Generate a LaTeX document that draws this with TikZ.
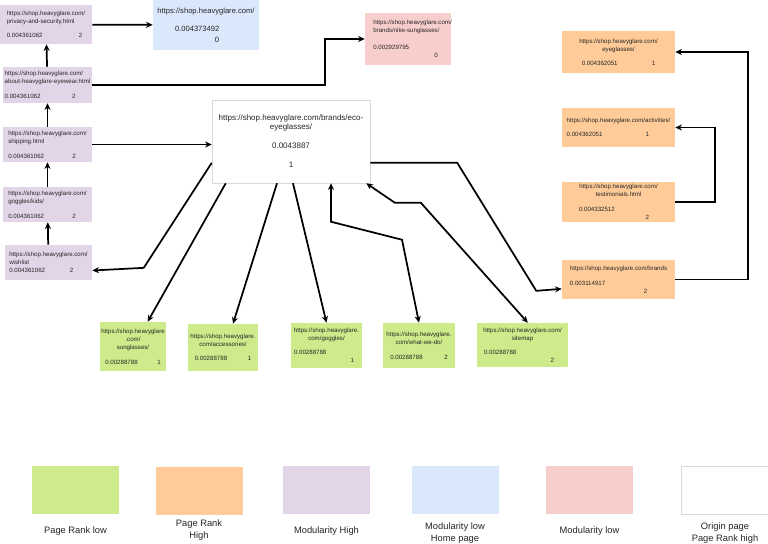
\documentclass[tikz,border=0pt]{standalone}
\usepackage{fontspec}
\setmainfont{Liberation Sans}
\usetikzlibrary{positioning,arrows.meta}

\definecolor{prlow}{HTML}{CDEB8B}
\definecolor{prhigh}{HTML}{FFCC99}
\definecolor{modhi}{HTML}{E1D5E7}
\definecolor{homeblue}{HTML}{DAE8FC}
\definecolor{modlo}{HTML}{F8CECC}

\begin{document}
\begin{tikzpicture}[
  x=0.75pt, y=-0.75pt,
  every node/.style={text=black!85},
  card/.style={
    rectangle, inner sep=0pt,
    align=left, font=\fontsize{4.6}{6}\selectfont
  },
  modhigh/.style={
    card, fill=modhi,
    minimum width=66.75pt, minimum height=26.25pt
  },
  modlow/.style={card, fill=modlo},
  homepage/.style={
    card, fill=homeblue,
    align=center, font=\fontsize{5.7}{7}\selectfont
  },
  originpage/.style={
    card, draw=black!15, fill=white,
    align=center, font=\fontsize{6}{6.75}\selectfont
  },
  rankhigh/.style={card, fill=prhigh, minimum width=84.75pt},
  ranklow/.style={card, fill=prlow, align=center},
  swatch/.style={rectangle, minimum width=65.25pt, minimum height=36pt},
  legendtext/.style={inner sep=0pt, align=center, font=\fontsize{7}{9}\selectfont},
  arrow/.style={-{Stealth[length=5pt,width=4.5pt]}, line width=1.3pt},
  twoway/.style={{Stealth[length=5pt,width=4.5pt]}-{Stealth[length=5pt,width=4.5pt]}, line width=1.3pt}
]

\fill[white] (0,0) rectangle (768,543);
\useasboundingbox (0,0) rectangle (768,543);

% =====================================================
% MODULARITY HIGH (left column)
% =====================================================

\node[modhigh, minimum width=69pt, minimum height=29.25pt] (privacy) at (46,24.5)
{https://shop.heavyglare.com/\\
privacy-and-security.html\\[4.5pt]
\makebox[54pt][l]{0.004361062}2};

\node[modhigh, minimum height=27pt] (about) at (47.5,85)
{https://shop.heavyglare.com/\\
about-heavyglare-eyewear.html\\[5.25pt]
\makebox[50.5pt][l]{0.004361062}2};

\node[modhigh] (shipping) at (47.5,144.5)
{https://shop.heavyglare.com/\\
shipping.html\\[5.25pt]
\makebox[48pt][l]{0.004361062}2};

\node[modhigh] (kids) at (47.5,204.5)
{https://shop.heavyglare.com/\\
goggles/kids/\\[5.25pt]
\makebox[48pt][l]{0.004361062}2};

\node[modhigh, minimum width=65.25pt] (wishlist) at (48.5,262.5)
{https://shop.heavyglare.com/\\
wishlist\\
\makebox[45.5pt][l]{0.004361062}2};

\draw[arrow] (wishlist) -- (kids);
\draw[arrow] (kids) -- (shipping);
\draw[arrow] (shipping) -- (about);
\draw[arrow] (about) -- (privacy);

% =====================================================
% HOME PAGE AND MODULARITY LOW
% =====================================================

\node[homepage, minimum width=79.5pt, minimum height=37.5pt] (home) at (206,25)
{https://shop.heavyglare.com/\\[6.5pt]
\makebox[46.5pt][l]{0.004373492}\\[1.25pt]
\makebox[19.5pt][r]{0}};

\node[modlow, minimum width=64.5pt, minimum height=39pt, text width=52pt] (nike) at (408,39)
{\mbox{https://shop.heavyglare.com/}\\
\mbox{brands/nike-sunglasses/}\\[6.75pt]
0.002929795\\
\hspace*{45.75pt}0};

\draw[arrow] (privacy) -- (home);
\draw[arrow] (about.east) -- ++(233,0) |- (nike.west);

% =====================================================
% ORIGIN PAGE
% =====================================================

\node[originpage, minimum width=118.5pt, minimum height=62.25pt] (origin) at (291,141.5)
{https://shop.heavyglare.com/brands/eco-\\
eyeglasses/\\[7.5pt]
0.0043887\\[7.5pt]
1};

\draw[arrow] (shipping.east) -- (shipping.east -| origin.west);

% =====================================================
% PAGE RANK HIGH (right column)
% =====================================================

\node[rankhigh, align=center, minimum height=31.5pt] (eyeglasses) at (618.5,52)
{https://shop.heavyglare.com/\\
eyeglasses/\\[4.5pt]
\makebox[52.5pt][l]{0.004362051}1};

\node[rankhigh, minimum height=29.25pt] (activities) at (618.5,127.5)
{https://shop.heavyglare.com/activities/\\[4.5pt]
\makebox[59.25pt][l]{0.004362051}1};

\node[rankhigh, align=center, minimum height=30pt] (testimonials) at (618.5,202)
{https://shop.heavyglare.com/\\
testimonials.html\\[5.25pt]
\makebox[59.25pt][l]{0.004332512}\\
\makebox[45.75pt][r]{2}};

\node[rankhigh, minimum height=29.25pt] (brands) at (618.5,279.5)
{https://shop.heavyglare.com/brands\\[5.25pt]
0.003114917\\
\hspace*{55.5pt}2};

\draw[arrow] ([yshift=-16pt]origin.east) -- ++(87,0) -- ++(79,128) -- ([yshift=-7pt]brands.west);
\draw[arrow] (testimonials.east) -- ++(40,0) |- (activities.east);
\draw[arrow] (brands.east) -- ++(73,0) |- (eyeglasses.east);

% =====================================================
% PAGE RANK LOW (bottom row)
% =====================================================

\node[ranklow, minimum width=49.5pt, minimum height=36.75pt] (sunglasses) at (133,346.5)
{https://shop.heavyglare\\
.com/\\
sunglasses/\\[5.25pt]
\makebox[39pt][l]{0.00288788}1};

\node[ranklow, minimum width=52.5pt, minimum height=35.25pt] (accessories) at (223,347.5)
{https://shop.heavyglare.\\
com/accessories/\\[4.5pt]
\makebox[39.75pt][l]{0.00288788}1};

\node[ranklow, minimum width=53.25pt, minimum height=33.75pt] (goggles) at (326.5,345.5)
{https://shop.heavyglare.\\
com/goggles/\\[4.5pt]
\makebox[48.75pt][l]{0.00288788}\\
\makebox[41.25pt][r]{1}};

\node[ranklow, minimum width=54pt, minimum height=33.75pt] (whatwedo) at (419,345.5)
{https://shop.heavyglare.\\
com/what-we-do/\\[5.25pt]
\makebox[40.5pt][l]{0.00288788}2};

\node[ranklow, minimum width=68.25pt, minimum height=33pt] (sitemap) at (522.5,345)
{https://shop.heavyglare.com/\\
sitemap\\[4.5pt]
\makebox[57.75pt][l]{0.00288788}\\
\makebox[47.25pt][r]{2}};

\draw[arrow] ([yshift=-16pt]origin.west) -- ++(-68,105) -- ([yshift=-6pt]wishlist.east);
\draw[arrow] ([xshift=10.5pt]origin.south west) -- ([xshift=11pt]sunglasses.north);
\draw[arrow] ([xshift=-10.5pt]origin.south) -- ([xshift=7.5pt]accessories.north);
\draw[arrow] ([xshift=1.5pt]origin.south) -- (goggles.north);
\draw[twoway] (whatwedo.north) -- ++(-17,-83) -- ++(-71,-18) -- ([xshift=30pt]origin.south);
\draw[twoway] ([xshift=4pt]sitemap.north) -- ++(-107,-120) -- ++(-26,0) -- ([xshift=-3pt]origin.south east);

% =====================================================
% LEGEND
% =====================================================

\node[swatch, fill=prlow] (key-low) at (75.5,490) {};
\node[swatch, fill=prhigh] (key-high) at (199,491) {};
\node[swatch, fill=modhi] (key-modhigh) at (326.5,490) {};
\node[swatch, fill=homeblue] (key-home) at (455,490) {};
\node[swatch, fill=modlo] (key-modlow) at (589.5,490) {};
\node[swatch, draw=black!15, fill=white] (key-origin) at (725,490) {};

\node[legendtext, below=9pt of key-low] (lbl-low) {Page Rank low};
\node[legendtext, below=3pt of key-high] (lbl-high) {Page Rank\\High};
\node[legendtext, below=9pt of key-modhigh] (lbl-modhigh) {Modularity High};
\node[legendtext, below=6pt of key-home] (lbl-home) {Modularity low\\Home page};
\node[legendtext, below=9pt of key-modlow] (lbl-modlow) {Modularity low};
\node[legendtext, below=6pt of key-origin] (lbl-origin) {Origin page\\Page Rank high};

\end{tikzpicture}
\end{document}
